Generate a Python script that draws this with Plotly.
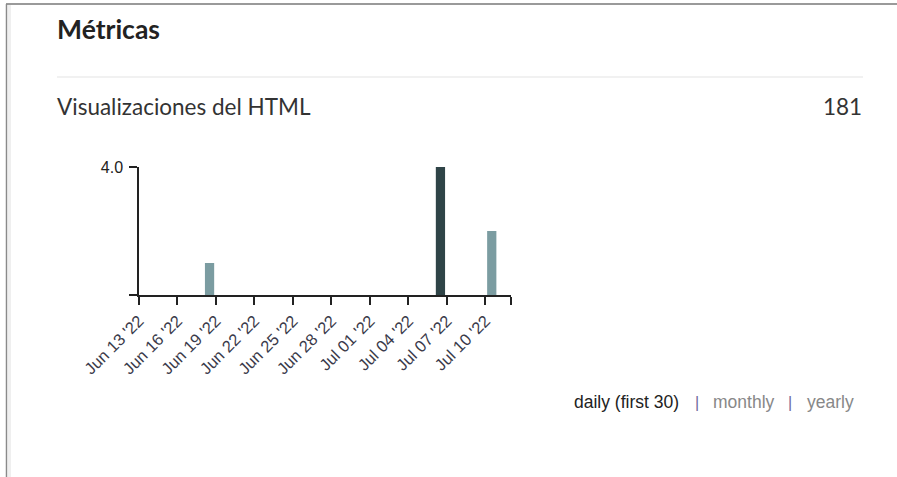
import plotly.graph_objects as go

# Daily HTML views, first 30 days
dates = [
    "2022-06-13", "2022-06-14", "2022-06-15", "2022-06-16", "2022-06-17",
    "2022-06-18", "2022-06-19", "2022-06-20", "2022-06-21", "2022-06-22",
    "2022-06-23", "2022-06-24", "2022-06-25", "2022-06-26", "2022-06-27",
    "2022-06-28", "2022-06-29", "2022-06-30", "2022-07-01", "2022-07-02",
    "2022-07-03", "2022-07-04", "2022-07-05", "2022-07-06", "2022-07-07",
    "2022-07-08", "2022-07-09", "2022-07-10", "2022-07-11",
]
views = [0, 0, 0, 0, 0, 1, 0, 0, 0, 0,
         0, 0, 0, 0, 0, 0, 0, 0, 0, 0,
         0, 0, 0, 4, 0, 0, 0, 2, 0]

tick_dates = ["2022-06-13", "2022-06-16", "2022-06-19", "2022-06-22", "2022-06-25",
              "2022-06-28", "2022-07-01", "2022-07-04", "2022-07-07", "2022-07-10"]
tick_labels = ["Jun 13 '22", "Jun 16 '22", "Jun 19 '22", "Jun 22 '22", "Jun 25 '22",
               "Jun 28 '22", "Jul 01 '22", "Jul 04 '22", "Jul 07 '22", "Jul 10 '22"]
axis_end = "2022-07-12"

panel_title = "Métricas"
metric_name = "Visualizaciones del HTML"
metric_total = "181"

W, H = 897, 477
PX0, PX1 = 139, 511      # plot area, horizontal pixels
PY0, PY1 = 167, 295      # plot area, vertical pixels (top, bottom)


def px(x):
    return (x - PX0) / (PX1 - PX0)


def py(y):
    return (PY1 - y) / (PY1 - PY0)


LIGHT = "#7b9ca1"
DARK = "#2f4447"
peak = max(views)
bar_colors = [DARK if v == peak else LIGHT for v in views]
centers = [d + " 12:00" for d in dates]

fig = go.Figure(go.Bar(
    x=centers, y=views,
    width=0.72 * 86400000,
    marker=dict(color=bar_colors, line=dict(width=0)),
    hoverinfo="x+y",
))

SANS = "Liberation Sans, Arial, sans-serif"

fig.update_layout(
    width=W, height=H,
    margin=dict(l=PX0, r=W - PX1, t=PY0, b=H - PY1, pad=0),
    paper_bgcolor="white", plot_bgcolor="white",
    showlegend=False,
    font=dict(family=SANS, color="#333"),
)

fig.update_xaxes(
    type="date",
    range=["2022-06-13", axis_end],
    tickvals=tick_dates + [axis_end],
    ticktext=tick_labels + [""],
    tickangle=-45,
    ticks="outside", ticklen=8, tickwidth=1.5, tickcolor="#222",
    showline=True, linecolor="#222", linewidth=1.5,
    showgrid=False, zeroline=False,
    tickfont=dict(size=16.5, color="#3a3a4a"),
)
fig.update_yaxes(
    range=[0, 4],
    tickvals=[0, 4],
    ticktext=["", "4.0"],
    ticks="outside", ticklen=8, tickwidth=1.5, tickcolor="#222",
    ticklabelstandoff=3,
    showline=True, linecolor="#222", linewidth=1.5,
    showgrid=False, zeroline=False,
    tickfont=dict(size=16, color="#222"),
)

shapes = []
# panel frame: top rule and left edge
shapes.append(dict(type="line", xref="paper", yref="paper",
                   x0=px(6), x1=px(W), y0=py(4), y1=py(4),
                   line=dict(color="#9a9a9a", width=2)))
shapes.append(dict(type="line", xref="paper", yref="paper",
                   x0=px(6.5), x1=px(6.5), y0=py(4), y1=py(H),
                   line=dict(color="#8a8a8a", width=1.5)))
shapes.append(dict(type="rect", xref="paper", yref="paper",
                   x0=px(8), x1=px(11), y0=py(5), y1=py(H),
                   line=dict(width=0), fillcolor="#efefef"))
# separator under the heading
shapes.append(dict(type="line", xref="paper", yref="paper",
                   x0=px(57), x1=px(863), y0=py(77), y1=py(77),
                   line=dict(color="#e3e3e3", width=1)))
fig.update_layout(shapes=shapes)

annotations = [
    dict(text="<b>" + panel_title + "</b>", x=px(55), y=py(29),
         xanchor="left", yanchor="middle",
         font=dict(family="Lato, sans-serif", size=26.5, color="#222")),
    dict(text=metric_name, x=px(55), y=py(106),
         xanchor="left", yanchor="middle",
         font=dict(family="Lato, sans-serif", size=22.5, color="#333")),
    dict(text=metric_total, x=px(864), y=py(106),
         xanchor="right", yanchor="middle",
         font=dict(family="Lato, sans-serif", size=22.5, color="#333")),
    dict(text="daily (first 30)", x=px(572), y=py(402),
         xanchor="left", yanchor="middle",
         font=dict(family=SANS, size=17.5, color="#222")),
    dict(text="|", x=px(697), y=py(402), xanchor="center", yanchor="middle",
         font=dict(family=SANS, size=16, color="#6f6a9a")),
    dict(text="monthly", x=px(711), y=py(402),
         xanchor="left", yanchor="middle",
         font=dict(family=SANS, size=17.5, color="#888")),
    dict(text="|", x=px(790), y=py(402), xanchor="center", yanchor="middle",
         font=dict(family=SANS, size=16, color="#6f6a9a")),
    dict(text="yearly", x=px(805), y=py(402),
         xanchor="left", yanchor="middle",
         font=dict(family=SANS, size=17.5, color="#888")),
]
for a in annotations:
    a.update(xref="paper", yref="paper", showarrow=False)
fig.update_layout(annotations=annotations)

fig.write_html("out.html", config={"displayModeBar": False})
